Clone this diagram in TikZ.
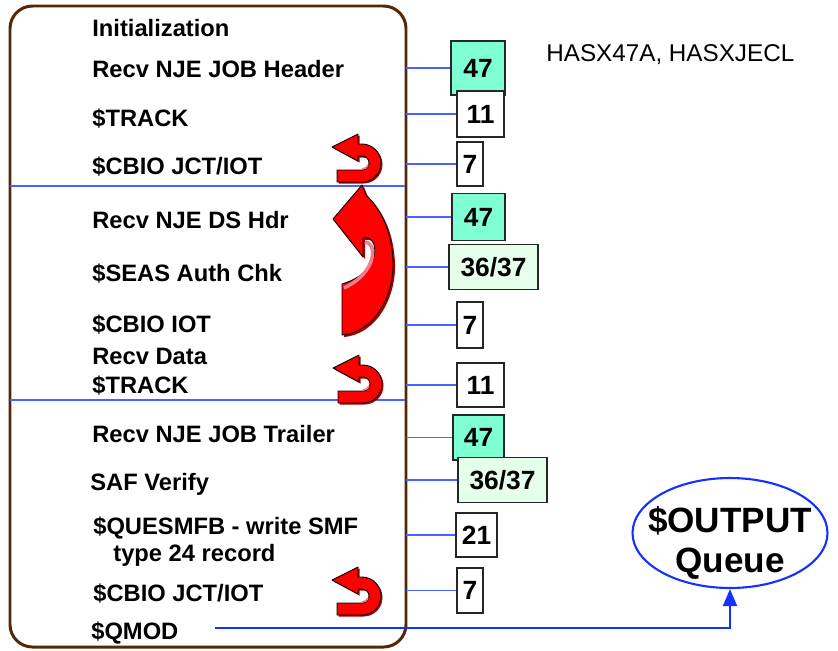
\documentclass[tikz,border=0pt]{standalone}
\usepackage{fontspec}
\setmainfont{Liberation Sans}
\usetikzlibrary{arrows.meta,shapes.geometric}
\definecolor{framebrown}{RGB}{85,40,5}
\definecolor{linkblue}{RGB}{70,100,255}
\definecolor{queueblue}{RGB}{20,50,255}
\definecolor{boxteal}{RGB}{127,255,212}
\definecolor{boxmint}{RGB}{228,255,234}
\definecolor{turnred}{RGB}{255,0,0}
\definecolor{turndark}{RGB}{165,0,0}
\definecolor{turnpink}{RGB}{240,125,145}
\tikzset{
  steptext/.style={anchor=west, inner sep=0pt, text height=9.7pt, text depth=0pt,
    font=\fontsize{13.5}{16}\selectfont\bfseries},
  numbox/.style={draw=black!85, line width=0.6pt, inner sep=0pt,
    font=\fontsize{15}{18}\selectfont\bfseries},
  link/.style={draw=linkblue, line width=0.6pt},
  turn/.style={fill=turnred, draw=black, line width=0.5pt, line join=round},
  turnshade/.style={fill=turndark},
}
% small u-turn arrow, origin at its top left corner
\def\smallturnpath{(0,11) -- (26,-2) -- (26,8) -- (30,8) arc[start angle=-90, end angle=90, radius=19]
  -- (5,46) -- (5,34) -- (30,34) arc[start angle=90, end angle=-90, radius=7] -- (26,20) -- (26,25) -- cycle}
\newcommand\smallturn[2]{%
  \begin{scope}[shift={(#1,#2)}]
    \fill[turnshade, shift={(1.5,1.5)}] \smallturnpath;
    \draw[turn] \smallturnpath;
    \draw[turnpink, line width=1pt] (36,29) arc[start angle=20, end angle=90, radius=6];
  \end{scope}}

\begin{document}
\begin{tikzpicture}[x=0.02cm, y=-0.02cm]
  %%%%% START %%%%%
  \useasboundingbox (0,0) rectangle (838,650);

  \draw[framebrown, line width=1.7pt, rounded corners=0.45cm] (10,6) rectangle (406,647);
  \coordinate (fr) at (406,0);

  \draw[link] (10,186) -- (405,186);
  \draw[link] (10,400) -- (405,400);

  \node[steptext] (t1) at (92,28) {Initialization};
  \node[steptext] (t2) at (92,69) {Recv NJE JOB Header};
  \node[steptext] (t3) at (92,118) {\$TRACK};
  \node[steptext] (t4) at (92,166) {\$CBIO JCT/IOT};
  \node[steptext] (t5) at (92,220) {Recv NJE DS Hdr};
  \node[steptext] (t6) at (92,273) {\$SEAS Auth Chk};
  \node[steptext] (t7) at (92,324) {\$CBIO IOT};
  \node[steptext] (t8) at (92,356) {Recv Data};
  \node[steptext] (t9) at (92,385) {\$TRACK};
  \node[steptext] (t10) at (92,434) {Recv NJE JOB Trailer};
  \node[steptext] (t11) at (90,482) {SAF Verify};
  \node[steptext] (t12) at (93,526) {\$QUESMFB - write SMF};
  \node[steptext] (t13) at (113,553) {type 24 record};
  \node[steptext] (t14) at (93,593) {\$CBIO JCT/IOT};
  \node[steptext] (t15) at (91,631) {\$QMOD};

  \node[anchor=west, inner sep=0pt, font=\fontsize{13.8}{16}\selectfont] (mods) at (546,55) {HASX47A, HASXJECL};

  \node[numbox, fill=boxteal, minimum width=1.08cm, minimum height=1.08cm] (n1) at (478,68) {47};
  \node[numbox, fill=white, minimum width=0.94cm, minimum height=0.92cm] (n2) at (480.5,114) {11};
  \node[numbox, fill=white, minimum width=0.52cm, minimum height=0.88cm] (n3) at (470,164) {7};
  \node[numbox, fill=boxteal, minimum width=1.06cm, minimum height=0.94cm] (n4) at (478.5,217) {47};
  \node[numbox, fill=boxmint, minimum width=1.78cm, minimum height=0.90cm] (n5) at (493.5,267) {36/37};
  \node[numbox, fill=white, minimum width=0.52cm, minimum height=0.92cm] (n6) at (470,325) {7};
  \node[numbox, fill=white, minimum width=0.94cm, minimum height=0.88cm] (n7) at (480.5,385) {11};
  \node[numbox, fill=boxteal, minimum width=1.02cm, minimum height=0.90cm] (n8) at (478.5,437.5) {47};
  \node[numbox, fill=boxmint, minimum width=1.78cm, minimum height=0.90cm] (n9) at (502.5,480) {36/37};
  \node[numbox, fill=white, minimum width=0.82cm, minimum height=0.88cm] (n10) at (476.5,535) {21};
  \node[numbox, fill=white, minimum width=0.52cm, minimum height=0.90cm] (n11) at (470,590.5) {7};

  \foreach \n in {n1,n2,n3,n4,n5,n6,n7,n8,n9,n10,n11}
    \draw[link] (fr |- \n) -- (\n.west);

  \node[draw=queueblue, line width=1.2pt, ellipse, minimum width=3.9cm, minimum height=2.2cm,
    inner sep=0pt] (queue) at (730,533) {};
  \node[align=center, inner sep=0pt, font=\fontsize{20}{23}\selectfont\bfseries] (qtext) at (730,543) {\$OUTPUT\\Queue};

  \coordinate (qstart) at (215,628);
  \draw[queueblue, line width=1.2pt, -{Triangle[length=0.34cm, width=0.28cm]}] (qstart) -| (queue.south);

  % red turn arrows
  \smallturn{332}{136}
  \smallturn{333}{357}
  \smallturn{332}{569}

  \fill[turnshade] (364,187) -- (335,221) -- (365,259) -- (365,240) .. controls (382,236) and (385,274) .. (344,286)
    -- (344,337) .. controls (377,334) and (396,297) .. (395,264) .. controls (394,232) and (382,210) .. (368,197) -- cycle;
  \draw[turn] (362,185) -- (333,219) -- (363,257) -- (363,238) .. controls (380,234) and (383,272) .. (342,284)
    -- (342,335) .. controls (375,332) and (394,295) .. (393,262) .. controls (392,230) and (380,208) .. (366,195) -- cycle;
  \draw[turnpink, line width=2pt] (365,242) .. controls (377,242) and (378,272) .. (344,288);

  %%%%% END %%%%%
\end{tikzpicture}
\end{document}
